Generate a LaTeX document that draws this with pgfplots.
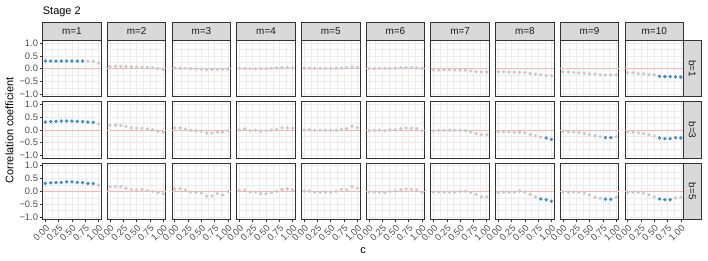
\documentclass[border=0pt]{standalone}
\usepackage{pgfplots}
\pgfplotsset{compat=1.18}
\usepackage{pgfplotstable}
\usepackage{fontspec}
\setmainfont{Liberation Sans}

\definecolor{grey10}{HTML}{1A1A1A}
\definecolor{grey20}{HTML}{333333}
\definecolor{grey30}{HTML}{4D4D4D}
\definecolor{grey85}{HTML}{D9D9D9}
\definecolor{grey92}{HTML}{EBEBEB}
\definecolor{ptgrey}{HTML}{CACACA}
\definecolor{ptblue}{HTML}{3A8CCB}
\definecolor{zeroline}{HTML}{FFB3B3}

% b = 1
\pgfplotstableread{
c   v1   v2    v3    v4    v5    v6    v7    v8    v9    v10   s1 s2 s3 s4 s5 s6 s7 s8 s9 s10
0.0 0.30 0.09  0.03  0.01  0.02  0.00 -0.05 -0.12 -0.12 -0.16  1 0 0 0 0 0 0 0 0 0
0.1 0.30 0.09  0.02  0.00  0.02  0.00 -0.05 -0.12 -0.13 -0.16  1 0 0 0 0 0 0 0 0 0
0.2 0.30 0.09  0.02  0.00  0.02  0.01 -0.04 -0.13 -0.15 -0.19  1 0 0 0 0 0 0 0 0 0
0.3 0.30 0.08  0.00 -0.01  0.01  0.01 -0.04 -0.13 -0.16 -0.20  1 0 0 0 0 0 0 0 0 0
0.4 0.30 0.07 -0.01  0.00  0.01  0.01 -0.05 -0.15 -0.17 -0.23  1 0 0 0 0 0 0 0 0 0
0.5 0.30 0.07 -0.02  0.00  0.01  0.02 -0.05 -0.16 -0.20 -0.24  1 0 0 0 0 0 0 0 0 0
0.6 0.30 0.05 -0.04  0.02  0.02  0.04 -0.06 -0.19 -0.21 -0.30  1 0 0 0 0 0 0 0 0 1
0.7 0.30 0.05 -0.03  0.03  0.03  0.05 -0.09 -0.21 -0.24 -0.31  1 0 0 0 0 0 0 0 0 1
0.8 0.29 0.04 -0.03  0.04  0.04  0.04 -0.12 -0.24 -0.25 -0.31  0 0 0 0 0 0 0 0 0 1
0.9 0.29 0.01 -0.02  0.04  0.07  0.03 -0.13 -0.27 -0.25 -0.32  0 0 0 0 0 0 0 0 0 1
1.0 0.22 -0.03 -0.01 0.04  0.05  0.01 -0.13 -0.27 -0.24 -0.33  0 0 0 0 0 0 0 0 0 1
}\tabA
% b = 3
\pgfplotstableread{
c   v1   v2    v3    v4    v5    v6    v7    v8    v9    v10   s1 s2 s3 s4 s5 s6 s7 s8 s9 s10
0.0 0.31 0.18  0.08  0.01  0.00 -0.03 -0.03 -0.07 -0.05 -0.07  1 0 0 0 0 0 0 0 0 0
0.1 0.33 0.19  0.08  0.04  0.01 -0.01 -0.01 -0.07 -0.07 -0.08  1 0 0 0 0 0 0 0 0 0
0.2 0.34 0.18  0.04 -0.03 -0.01 -0.01 -0.01 -0.08 -0.08 -0.11  1 0 0 0 0 0 0 0 0 0
0.3 0.35 0.14 -0.01 -0.01 -0.01 -0.03 -0.01 -0.09 -0.11 -0.14  1 0 0 0 0 0 0 0 0 0
0.4 0.35 0.08 -0.03 -0.04 -0.01  0.00 -0.01 -0.09 -0.14 -0.19  1 0 0 0 0 0 0 0 0 0
0.5 0.35 0.07 -0.05 -0.03 -0.01  0.01 -0.01 -0.12 -0.18 -0.24  1 0 0 0 0 0 0 0 0 0
0.6 0.34 0.07 -0.12  0.00 -0.01  0.05 -0.03 -0.18 -0.23 -0.31  1 0 0 0 0 0 0 0 0 1
0.7 0.33 0.04 -0.12  0.03  0.04  0.08 -0.08 -0.23 -0.26 -0.34  1 0 0 0 0 0 0 0 0 1
0.8 0.31 0.01 -0.08  0.08  0.05  0.07 -0.14 -0.28 -0.30 -0.34  1 0 0 0 0 0 0 0 1 1
0.9 0.30 -0.05 -0.09 0.08  0.15  0.05 -0.18 -0.31 -0.30 -0.30  1 0 0 0 0 0 0 1 1 1
1.0 0.24 -0.08 -0.03 0.07  0.09 -0.03 -0.18 -0.37 -0.26 -0.31  0 0 0 0 0 0 0 1 0 1
}\tabB
% b = 5
\pgfplotstableread{
c   v1   v2    v3    v4    v5    v6    v7    v8    v9    v10   s1 s2 s3 s4 s5 s6 s7 s8 s9 s10
0.0 0.31 0.18  0.09  0.04  0.01 -0.03 -0.03 -0.05 -0.03 -0.05  1 0 0 0 0 0 0 0 0 0
0.1 0.33 0.19  0.11  0.05  0.01 -0.03 -0.03 -0.03 -0.03 -0.03  1 0 0 0 0 0 0 0 0 0
0.2 0.34 0.18  0.05 -0.03 -0.03 -0.03 -0.03 -0.03 -0.03 -0.04  1 0 0 0 0 0 0 0 0 0
0.3 0.35 0.12 -0.03 -0.03 -0.04 -0.05 -0.03 -0.03 -0.04 -0.08  1 0 0 0 0 0 0 0 0 0
0.4 0.37 0.07 -0.04 -0.08 -0.03 -0.01 -0.03  0.01 -0.07 -0.14  1 0 0 0 0 0 0 0 0 0
0.5 0.37 0.05 -0.07 -0.09 -0.03  0.01  0.00 -0.03 -0.14 -0.22  1 0 0 0 0 0 0 0 0 0
0.6 0.35 0.07 -0.19 -0.05  0.00  0.07  0.00 -0.12 -0.23 -0.30  1 0 0 0 0 0 0 0 0 1
0.7 0.34 0.03 -0.18  0.00  0.07  0.09 -0.05 -0.22 -0.27 -0.33  1 0 0 0 0 0 0 0 0 1
0.8 0.31 0.00 -0.09  0.08  0.07  0.08 -0.12 -0.30 -0.31 -0.33  1 0 0 0 0 0 0 1 1 1
0.9 0.30 -0.05 -0.14 0.09  0.18  0.05 -0.22 -0.33 -0.31 -0.26  1 0 0 0 0 0 0 1 1 0
1.0 0.24 -0.09 -0.01 0.05  0.12 -0.04 -0.22 -0.39 -0.23 -0.23  0 0 0 0 0 0 0 1 0 0
}\tabC

\pgfplotsset{
  panel/.style={
    scale only axis, width=58.5bp, height=56.2bp, anchor=north west,
    xmin=-0.05, xmax=1.05, ymin=-1.1, ymax=1.1,
    xtick={0,0.25,0.5,0.75,1}, minor xtick={0.125,0.375,0.625,0.875},
    ytick={-1,-0.5,0,0.5,1}, minor ytick={-0.75,-0.25,0.25,0.75},
    grid=both,
    major grid style={draw=grey92, line width=0.6bp},
    minor grid style={draw=grey92, line width=0.3bp},
    axis line style={draw=grey20, line width=0.9bp},
    tick align=outside, xtick pos=left, ytick pos=left,
    major tick length=3bp, minor tick length=0pt,
    tick style={draw=grey20, line width=0.6bp},
    ticklabel style={font=\fontsize{9.4}{11}\selectfont, text=grey30},
    xticklabel style={rotate=45, anchor=north east, inner sep=1.2bp},
    yticklabel style={anchor=east, inner sep=1.5bp},
    clip=false,
  },
  yshow/.style={yticklabels={−1.0,−0.5,0.0,0.5,1.0}},
  yhide/.style={yticklabels={}, ytick style={draw=none}},
  xshow/.style={xticklabels={0.00,0.25,0.50,0.75,1.00}},
  xhide/.style={xticklabels={}, xtick style={draw=none}},
  ypanel/.code={\ifnum#1=1\relax\pgfkeysalso{/pgfplots/yshow}\else\pgfkeysalso{/pgfplots/yhide}\fi},
  xpanel/.code={\ifnum#1=3\relax\pgfkeysalso{/pgfplots/xshow}\else\pgfkeysalso{/pgfplots/xhide}\fi},
}

\newcommand\drawrow[3]{%
  \foreach \m in {1,...,10}{
    \pgfmathsetmacro\xx{42.7+(\m-1)*64.7}
    \pgfmathsetmacro\yy{-40.6-(#1-1)*61.3}
    \begin{axis}[panel, at={(\xx bp,\yy bp)}, ypanel=\m, xpanel=#1]
      \addplot[draw=zeroline, line width=0.8bp, no marks] coordinates {(-0.05,0) (1.05,0)};
      \addplot[scatter, only marks, mark=*, mark size=1.5bp,
        scatter src=explicit symbolic,
        scatter/classes={0={mark=*,draw=ptgrey,fill=ptgrey},1={mark=*,draw=ptblue,fill=ptblue}}]
        table[x=c, y=v\m, meta=s\m] {#3};
      \ifnum#1=1
        \draw[fill=grey85, draw=grey20, line width=0.9bp] (rel axis cs:0,1) rectangle ([yshift=18.2bp]rel axis cs:1,1);
        \node[font=\fontsize{10}{12}\selectfont, text=grey10] at ([yshift=9.1bp]rel axis cs:0.5,1) {m=\m};
      \fi
      \ifnum\m=10
        \draw[fill=grey85, draw=grey20, line width=0.9bp] (rel axis cs:1,0) rectangle ([xshift=18bp]rel axis cs:1,1);
        \node[font=\fontsize{10}{12}\selectfont, text=grey10, rotate=-90] at ([xshift=9bp]rel axis cs:1,0.5) {b=#2};
      \fi
    \end{axis}
  }%
}

\begin{document}
\begin{tikzpicture}
\path[use as bounding box] (0bp,0bp) rectangle (708bp,-261bp);

\drawrow{1}{1}{\tabA}
\drawrow{2}{3}{\tabB}
\drawrow{3}{5}{\tabC}

\node[anchor=base west, font=\fontsize{11}{13}\selectfont, text=black, inner sep=0] at (42.7bp,-14.8bp) {Stage 2};
\node[rotate=90, font=\fontsize{11}{13}\selectfont, text=black] at (9.5bp,-130.5bp) {Correlation coefficient};
\node[anchor=base, font=\fontsize{11}{13}\selectfont, text=black, inner sep=0] at (363bp,-253bp) {c};
\end{tikzpicture}
\end{document}
